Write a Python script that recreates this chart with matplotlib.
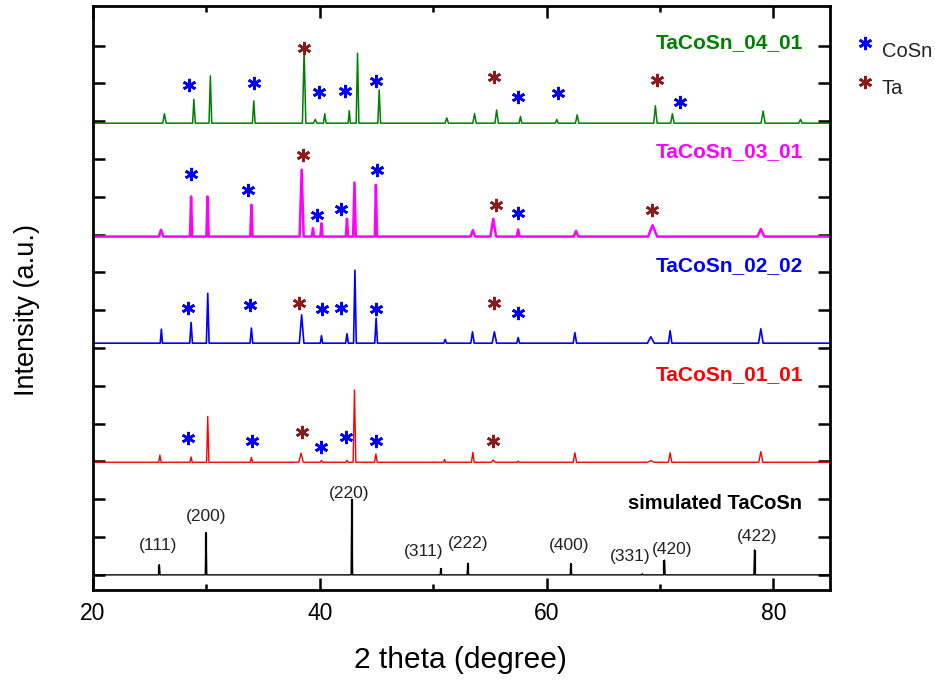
import matplotlib
matplotlib.use("Agg")
import matplotlib.pyplot as plt
import numpy as np

plt.rcParams['font.family'] = ['Liberation Sans', 'DejaVu Sans']

# ---------------- data ----------------
x_min, x_max = 20, 85

# sample name, baseline offset, line colour
sample_names = ["TaCoSn_04_01", "TaCoSn_03_01", "TaCoSn_02_02", "TaCoSn_01_01"]
sample_offsets = [11.95, 8.95, 6.13, 2.98]
sample_colors = ["#008000", "#ff00ff", "#0000ff", "#ff0000"]

# peaks: positions (2theta), heights, half widths
g_pos = [26.3, 28.9, 30.35, 34.18, 38.62, 39.6, 40.44, 42.6, 43.33, 45.24, 51.2, 53.65, 55.6, 57.7, 60.9, 62.7, 69.6, 71.1, 79.1, 82.4]
g_hgt = [0.25, 0.63, 1.25, 0.59, 1.95, 0.10, 0.25, 0.33, 1.85, 0.88, 0.14, 0.25, 0.35, 0.18, 0.10, 0.22, 0.46, 0.25, 0.32, 0.10]
g_wid = [0.15, 0.12, 0.12, 0.12, 0.15, 0.15, 0.12, 0.10, 0.12, 0.12, 0.15, 0.15, 0.15, 0.12, 0.12, 0.15, 0.15, 0.15, 0.18, 0.15]

m_pos = [26.0, 28.65, 30.1, 33.97, 38.4, 39.4, 40.15, 42.4, 43.06, 44.95, 53.5, 55.3, 57.5, 62.6, 69.35, 78.9]
m_hgt = [0.18, 1.06, 1.06, 0.84, 1.77, 0.22, 0.35, 0.47, 1.43, 1.37, 0.17, 0.47, 0.19, 0.15, 0.30, 0.20]
m_wid = [0.20, 0.10, 0.10, 0.10, 0.18, 0.10, 0.10, 0.10, 0.12, 0.10, 0.20, 0.25, 0.12, 0.20, 0.40, 0.30]

b_pos = [26.03, 28.65, 30.12, 33.97, 38.4, 40.15, 42.4, 43.1, 44.97, 51.06, 53.47, 55.4, 57.5, 62.5, 69.2, 70.9, 78.9]
b_hgt = [0.37, 0.55, 1.32, 0.40, 0.75, 0.20, 0.25, 1.93, 0.66, 0.10, 0.30, 0.30, 0.15, 0.28, 0.17, 0.33, 0.38]
b_wid = [0.10, 0.12, 0.12, 0.12, 0.20, 0.10, 0.12, 0.12, 0.12, 0.12, 0.15, 0.20, 0.12, 0.15, 0.30, 0.15, 0.20]

r_pos = [25.9, 28.65, 30.12, 33.97, 38.35, 40.15, 42.4, 43.06, 44.95, 51.0, 53.5, 55.3, 57.5, 62.5, 69.2, 70.9, 78.9]
r_hgt = [0.19, 0.14, 1.21, 0.13, 0.24, 0.05, 0.05, 1.91, 0.22, 0.07, 0.26, 0.06, 0.03, 0.25, 0.04, 0.25, 0.28]
r_wid = [0.10, 0.10, 0.10, 0.10, 0.20, 0.10, 0.10, 0.12, 0.12, 0.10, 0.12, 0.15, 0.10, 0.15, 0.30, 0.15, 0.18]

sim_pos = [25.85, 29.97, 42.83, 50.68, 53.06, 62.15, 68.44, 70.4, 78.35]
sim_hgt = [0.27, 1.12, 2.00, 0.17, 0.31, 0.30, 0.03, 0.39, 0.66]
sim_hkl = ["(111)", "(200)", "(220)", "(311)", "(222)", "(400)", "(331)", "(420)", "(422)"]
hkl_x = [25.7, 29.94, 42.62, 49.19, 53.05, 62.0, 67.4, 71.1, 78.6]
hkl_y = [0.77, 1.54, 2.16, 0.62, 0.84, 0.79, 0.48, 0.68, 1.01]

# phase markers (star positions) per sample
cosn_x = [[28.5, 34.2, 39.9, 42.2, 44.95, 57.45, 61.0, 71.8],
          [28.65, 33.7, 39.74, 41.9, 45.03, 57.47],
          [28.35, 33.85, 40.2, 41.9, 44.95, 57.5],
          [28.35, 34.06, 40.1, 42.3, 44.95]]
cosn_y = [[12.96, 13.0, 12.78, 12.81, 13.07, 12.65, 12.74, 12.52],
          [10.61, 10.19, 9.52, 9.67, 10.71, 9.57],
          [7.05, 7.14, 7.03, 7.05, 7.03, 6.92],
          [3.62, 3.55, 3.39, 3.66, 3.55]]
ta_x = [[38.65, 55.4, 69.76], [38.5, 55.5, 69.3], [38.2, 55.4], [38.47, 55.3]]
ta_y = [[13.93, 13.16, 13.1], [11.1, 9.79, 9.64], [7.19, 7.19], [3.79, 3.55]]

label_y = [14.07, 11.2, 8.17, 5.31]
sim_label = "simulated TaCoSn"
sim_label_y = 1.9

cosn_color = "#0000ff"
ta_color = "#8b1a1a"


def pattern(pos, hgt, wid):
    order = np.argsort(pos)
    xs = [x_min]
    ys = [0.0]
    for i in order:
        xs += [pos[i] - wid[i], pos[i], pos[i] + wid[i]]
        ys += [0.0, hgt[i], 0.0]
    xs.append(x_max)
    ys.append(0.0)
    return np.array(xs), np.array(ys)


# ---------------- figure ----------------
fig = plt.figure(figsize=(9.35, 6.81), dpi=100)
ax = fig.add_axes([93 / 935, 1 - 590 / 681, (830 - 93) / 935, (590 - 6) / 681])

peak_sets = [(g_pos, g_hgt, g_wid), (m_pos, m_hgt, m_wid), (b_pos, b_hgt, b_wid), (r_pos, r_hgt, r_wid)]
line_widths = [1.1, 1.8, 1.2, 1.0]
star_kw = dict(marker=(6, 2, 0), markersize=9.5, markeredgewidth=1.9, linestyle="none")

for k in range(4):
    xs, ys = pattern(*peak_sets[k])
    ax.plot(xs, ys + sample_offsets[k], color=sample_colors[k], lw=line_widths[k])
    ax.plot(cosn_x[k], cosn_y[k], color=cosn_color, mec=cosn_color, **star_kw)
    ax.plot(ta_x[k], ta_y[k], color=ta_color, mec=ta_color, **star_kw)
    ax.text(82.65, label_y[k], sample_names[k], color=sample_colors[k], fontsize=15,
            fontweight="bold", ha="right", va="center")

xs, ys = pattern(sim_pos, sim_hgt, [0.06] * len(sim_pos))
ax.plot(xs, ys, color="black", lw=1.0)
ax.vlines(sim_pos, 0, sim_hgt, color="black", lw=1.6)
for lab, lx, ly in zip(sim_hkl, hkl_x, hkl_y):
    ax.text(lx, ly, lab, fontsize=12.5, color="#222222", ha="center", va="center")
ax.text(82.5, sim_label_y, sim_label, fontsize=14.5, fontweight="bold", color="black",
        ha="right", va="center")

ax.set_xlim(x_min, x_max)
ax.set_ylim(-0.4, 15.05)
ax.set_xticks([20, 40, 60, 80])
ax.set_xticks([30, 50, 70], minor=True)
ax.set_yticks(np.arange(0, 15))
ax.set_yticklabels([])
ax.tick_params(axis="both", which="major", direction="in", length=8.5, width=1.8,
               top=True, right=True, labelsize=16.5, pad=9)
ax.tick_params(axis="x", which="minor", direction="in", length=4, width=1.8, top=True)
for s in ax.spines.values():
    s.set_linewidth(2.0)

fig.text(460 / 935, 1 - 660 / 681, "2 theta (degree)", fontsize=21.5, ha="center", va="center")
fig.text(27.5 / 935, 1 - 310 / 681, "Intensity (a.u.)", fontsize=19.5, ha="center", va="center",
         rotation=90)

# legend drawn outside the axes
fig.lines.append(plt.Line2D([865 / 935], [1 - 43.3 / 681], transform=fig.transFigure,
                            color=cosn_color, mec=cosn_color, **star_kw))
fig.lines.append(plt.Line2D([865 / 935], [1 - 81.7 / 681], transform=fig.transFigure,
                            color=ta_color, mec=ta_color, **star_kw))
fig.text(882 / 935, 1 - 51.7 / 681, "CoSn", fontsize=14.5, ha="left", va="center", color="#222222")
fig.text(882 / 935, 1 - 88.3 / 681, "Ta", fontsize=14.5, ha="left", va="center", color="#222222")

fig.savefig("out.png", dpi=100)
